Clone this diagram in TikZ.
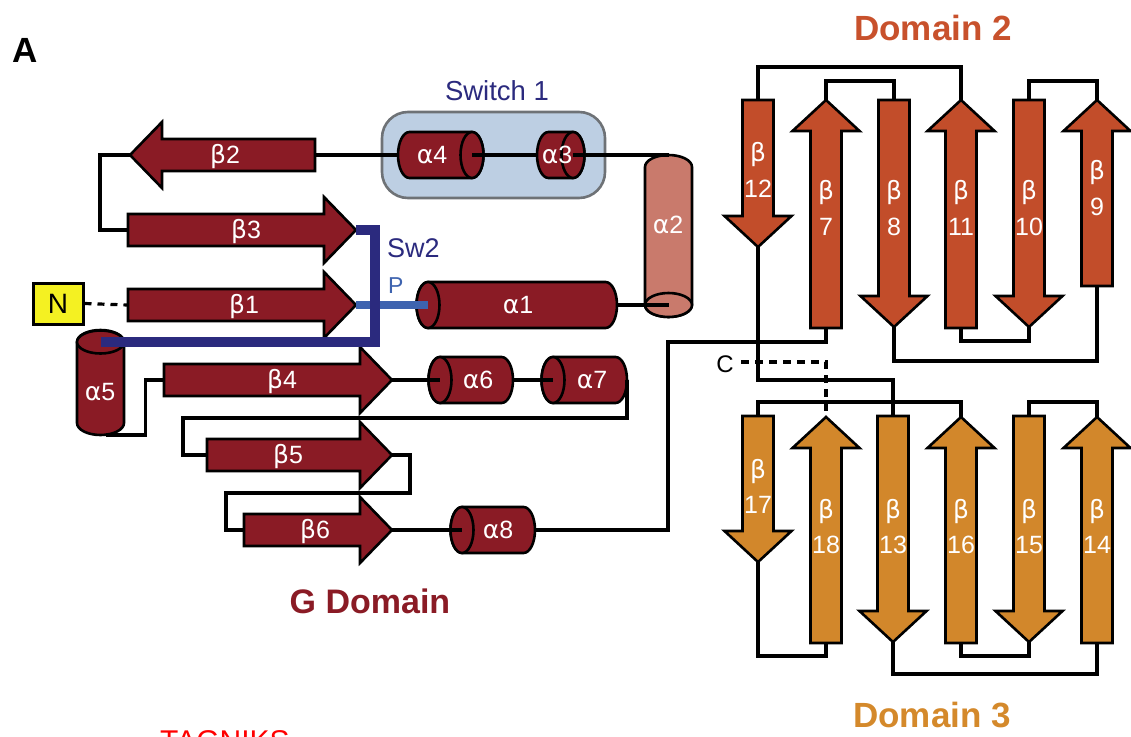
\documentclass[tikz,border=0pt]{standalone}
\usepackage{fontspec}
\setmainfont{Liberation Sans}
\newfontfamily\grk{DejaVu Sans}
\newcommand{\gb}{{\grk β}}
\newcommand{\ga}{{\grk α}}
\definecolor{gred}{HTML}{8A1B25}
\definecolor{salmon}{HTML}{C97A6C}
\definecolor{dtwo}{HTML}{C24D2A}
\definecolor{dthree}{HTML}{D2872B}
\definecolor{dtwotxt}{HTML}{C8512C}
\definecolor{dthreetxt}{HTML}{D4892B}
\definecolor{navy}{HTML}{2B2A7E}
\definecolor{pblue}{HTML}{3E63AF}
\definecolor{swfill}{HTML}{BDCFE3}
\definecolor{swedge}{HTML}{6E7276}
\definecolor{nyellow}{HTML}{F4F122}
% horizontal strand: name, xtail, xtip, y, dir, style
\newcommand{\hstr}[6]{%
  \pgfmathsetmacro\myhb{#3-32*#5}%
  \draw[#6] (#2,#4-16) -- (\myhb,#4-16) -- (\myhb,#4-33) -- (#3,#4) -- (\myhb,#4+33) -- (\myhb,#4+16) -- (#2,#4+16) -- cycle;
  \coordinate (#1tail) at (#2,#4);
  \coordinate (#1tip) at (#3,#4);}
% vertical strand: name, x, ytail, ytip, dir(+1 down), style
\newcommand{\vstr}[6]{%
  \pgfmathsetmacro\myvb{#4-31*#5}%
  \draw[#6] (#2-15.5,#3) -- (#2-15.5,\myvb) -- (#2-33.5,\myvb) -- (#2,#4) -- (#2+33.5,\myvb) -- (#2+15.5,\myvb) -- (#2+15.5,#3) -- cycle;
  \coordinate (#1tail) at (#2,#3);
  \coordinate (#1tip) at (#2,#4);}
% cylinder with visible face on left: name, xe, xr, yc, fill
\newcommand{\cylL}[5]{%
  \draw[cyl,fill=#5] (#2,#4-23) -- (#3-11.5,#4-23) arc[start angle=-90,end angle=90,x radius=11.5,y radius=23] -- (#2,#4+23) arc[start angle=90,end angle=270,x radius=11.5,y radius=23] -- cycle;
  \draw[cyl,fill=#5] (#2,#4) ellipse[x radius=11.5,y radius=23];
  \coordinate (#1e) at (#2,#4);
  \coordinate (#1r) at (#3,#4);}
% cylinder with visible face on right: name, xl, xe, yc, fill
\newcommand{\cylR}[5]{%
  \draw[cyl,fill=#5] (#2+11.5,#4-23) -- (#3,#4-23) arc[start angle=-90,end angle=90,x radius=11.5,y radius=23] -- (#2+11.5,#4+23) arc[start angle=90,end angle=270,x radius=11.5,y radius=23] -- cycle;
  \draw[cyl,fill=#5] (#3,#4) ellipse[x radius=11.5,y radius=23];
  \coordinate (#1l) at (#2,#4);
  \coordinate (#1e) at (#3,#4);}
\begin{document}
\begin{tikzpicture}[x=1pt,y=-1pt,
  gstrand/.style={draw=black,line width=2.6pt,fill=gred,line join=miter},
  dtwostrand/.style={draw=black,line width=2.6pt,fill=dtwo,line join=miter},
  dthreestrand/.style={draw=black,line width=2.6pt,fill=dthree,line join=miter},
  cyl/.style={draw=black,line width=2.6pt},
  conn/.style={draw=black,line width=3.2pt,line join=miter},
  dashconn/.style={draw=black,line width=3.2pt,dash pattern=on 7pt off 6pt},
  swline/.style={draw=navy,line width=9.5pt,line join=miter},
  pline/.style={draw=pblue,line width=8.5pt},
  lab/.style={text=white,font=\fontsize{25}{30}\selectfont,inner sep=0pt,anchor=base},
  title/.style={font=\fontsize{35}{40}\selectfont\bfseries,inner sep=0pt,anchor=base},
  ]
\useasboundingbox (0,0) rectangle (1131,736);

% Switch 1 box
\draw[draw=swedge,fill=swfill,line width=2.6pt,rounded corners=26pt] (382,112) rectangle (605,198);
\node[font=\fontsize{27.5}{32}\selectfont,text=navy,inner sep=0pt,anchor=base] (sw1) at (497,100) {Switch 1};

% G domain strands
\hstr{b2}{315}{130}{155}{-1}{gstrand}
\hstr{b3}{128}{356}{230}{1}{gstrand}
\hstr{b1}{128}{356}{305}{1}{gstrand}
\hstr{b4}{164}{392}{380}{1}{gstrand}
\hstr{b5}{207}{392}{455}{1}{gstrand}
\hstr{b6}{244}{392}{530}{1}{gstrand}

% helices
\cylR{a4}{398}{472}{155}{gred}
\cylR{a3}{537}{573}{155}{gred}
\cylL{a1}{428}{617}{305}{gred}
\cylL{a6}{440}{513}{380}{gred}
\cylL{a7}{553}{627}{380}{gred}
\cylL{a8}{462}{535}{530}{gred}
% alpha2 (vertical, face at bottom)
\draw[cyl,fill=salmon] (645,305) -- (645,167) arc[start angle=180,end angle=360,x radius=23.5,y radius=12] -- (692,305) arc[start angle=0,end angle=180,x radius=23.5,y radius=12] -- cycle;
\draw[cyl,fill=salmon] (668.5,305) ellipse[x radius=23.5,y radius=12];
\coordinate (a2e) at (668.5,305);
\coordinate (a2t) at (668.5,155);
% alpha5 (vertical, face at top)
\draw[cyl,fill=gred] (77,342) -- (77,423) arc[start angle=180,end angle=0,x radius=23.5,y radius=12] -- (124,342) arc[start angle=0,end angle=-180,x radius=23.5,y radius=12] -- cycle;
\draw[cyl,fill=gred] (100.5,342) ellipse[x radius=23.5,y radius=11.5];
\coordinate (a5e) at (100.5,342);
\coordinate (a5b) at (106,435);

% Domain 2 strands
\vstr{b12}{758}{100}{247}{1}{dtwostrand}
\vstr{b7}{826}{328}{100}{-1}{dtwostrand}
\vstr{b8}{894}{100}{327}{1}{dtwostrand}
\vstr{b11}{961}{328}{100}{-1}{dtwostrand}
\vstr{b10}{1029}{100}{327}{1}{dtwostrand}
\vstr{b9}{1097}{286}{100}{-1}{dtwostrand}

% Domain 3 strands
\vstr{b17}{758}{416}{562}{1}{dthreestrand}
\vstr{b18}{826}{643}{417}{-1}{dthreestrand}
\vstr{b13}{893}{416}{642}{1}{dthreestrand}
\vstr{b16}{961}{643}{417}{-1}{dthreestrand}
\vstr{b15}{1029}{416}{642}{1}{dthreestrand}
\vstr{b14}{1097}{643}{417}{-1}{dthreestrand}

% N terminus
\node[draw=black,line width=3pt,fill=nyellow,minimum width=50pt,minimum height=41pt,inner sep=0pt,font=\fontsize{28}{32}\selectfont] (N) at (58,303.5) {N};
% C terminus
\node[font=\fontsize{24}{28}\selectfont,inner sep=0pt,anchor=base] (C) at (725,372) {C};
\coordinate (Cend) at (741,362);

% connectors
\draw[conn] (b2tail) -- (a4l);
\draw[conn] (a4e) -- (a3l);
\draw[conn] (a3e) -- (a2t);
\draw[conn] (a1r) -- (a2e);
\draw[conn] (b2tip) -- ++(-30,0) |- (b3tail);
\draw[dashconn] (N.east) -- (b1tail);
\draw[conn] (a5b) -- ++(39.5,0) |- (b4tail);
\draw[conn] (b4tip) -- (a6e);
\draw[conn] (a6r) -- (a7e);
\draw[conn] (a7r) |- (183,418) |- (b5tail);
\draw[conn] (b5tip) -| (410,493) -- (226,493) |- (b6tail);
\draw[conn] (b6tip) -- (a8e);
\draw[conn] (a8r) -| (668,342) -| (b7tail);
\draw[conn] (b7tip) -- ++(0,-19) -| (b8tail);
\draw[conn] (b8tip) -- ++(0,34) -| (b9tail);
\draw[conn] (b9tip) -- ++(0,-19) -| (b10tail);
\draw[conn] (b10tip) -- ++(0,14) -| (b11tail);
\draw[conn] (b11tip) -- ++(0,-33) -| (b12tail);
\draw[conn] (b12tip) -- ++(0,133) -| (b13tail);
\draw[conn] (b13tip) -- ++(0,32) -| (b14tail);
\draw[conn] (b14tip) -- ++(0,-15) -| (b15tail);
\draw[conn] (b15tip) -- ++(0,14) -| (b16tail);
\draw[conn] (b16tip) -- ++(0,-15) -| (b17tail);
\draw[conn] (b17tip) -- ++(0,94) -| (b18tail);
\draw[dashconn,dash pattern=on 8pt off 6pt] (Cend) -| (b18tip);

% switch lines
\draw[pline] (b1tip) -- (a1e);
\draw[swline] (b3tip) -- ++(19,0) |- (a5e);
\node[font=\fontsize{27}{32}\selectfont,text=navy,inner sep=0pt,anchor=base west] (sw2) at (387,257) {Sw2};
\node[font=\fontsize{23}{28}\selectfont,text=pblue,inner sep=0pt,anchor=base west] (P) at (388,293) {P};

% G domain labels
\node[lab] (lb2) at (225,163) {\gb2};
\node[lab] (lb3) at (246,238) {\gb3};
\node[lab] (lb1) at (244,313) {\gb1};
\node[lab] (lb4) at (282,388) {\gb4};
\node[lab] (lb5) at (288,463) {\gb5};
\node[lab] (lb6) at (315,538) {\gb6};
\node[lab] (la4) at (432,163) {\ga4};
\node[lab] (la3) at (557,163) {\ga3};
\node[lab] (la1) at (518,313) {\ga1};
\node[lab] (la2) at (668,233) {\ga2};
\node[lab] (la5) at (100,400) {\ga5};
\node[lab] (la6) at (478,388) {\ga6};
\node[lab] (la7) at (592,388) {\ga7};
\node[lab] (la8) at (498,538) {\ga8};

% Domain 2 labels
\node[lab] (lb12a) at (758,161) {\gb};  \node[lab] (lb12b) at (758,197) {12};
\node[lab] (lb7a) at (826,199) {\gb};   \node[lab] (lb7b) at (826,235) {7};
\node[lab] (lb8a) at (894,199) {\gb};   \node[lab] (lb8b) at (894,235) {8};
\node[lab] (lb11a) at (961,199) {\gb};  \node[lab] (lb11b) at (961,235) {11};
\node[lab] (lb10a) at (1029,199) {\gb}; \node[lab] (lb10b) at (1029,235) {10};
\node[lab] (lb9a) at (1097,179) {\gb};  \node[lab] (lb9b) at (1097,215) {9};

% Domain 3 labels
\node[lab] (lb17a) at (758,478) {\gb};  \node[lab] (lb17b) at (758,513) {17};
\node[lab] (lb18a) at (826,518) {\gb};  \node[lab] (lb18b) at (826,553) {18};
\node[lab] (lb13a) at (893,518) {\gb};  \node[lab] (lb13b) at (893,553) {13};
\node[lab] (lb16a) at (961,518) {\gb};  \node[lab] (lb16b) at (961,553) {16};
\node[lab] (lb15a) at (1029,518) {\gb}; \node[lab] (lb15b) at (1029,553) {15};
\node[lab] (lb14a) at (1097,518) {\gb}; \node[lab] (lb14b) at (1097,553) {14};

% titles
\node[title,text=black] (A) at (25,62) {A};
\node[title,text=dtwotxt] (D2) at (933,40) {Domain 2};
\node[title,text=dthreetxt] (D3) at (932,727) {Domain 3};
\node[title,text=gred,font=\fontsize{34}{40}\selectfont\bfseries] (GD) at (370,613) {G Domain};
\node[text=red,font=\fontsize{30}{36}\selectfont,inner sep=0pt,anchor=base west] (wm) at (160,751) {TAGNIKS};
\end{tikzpicture}
\end{document}
